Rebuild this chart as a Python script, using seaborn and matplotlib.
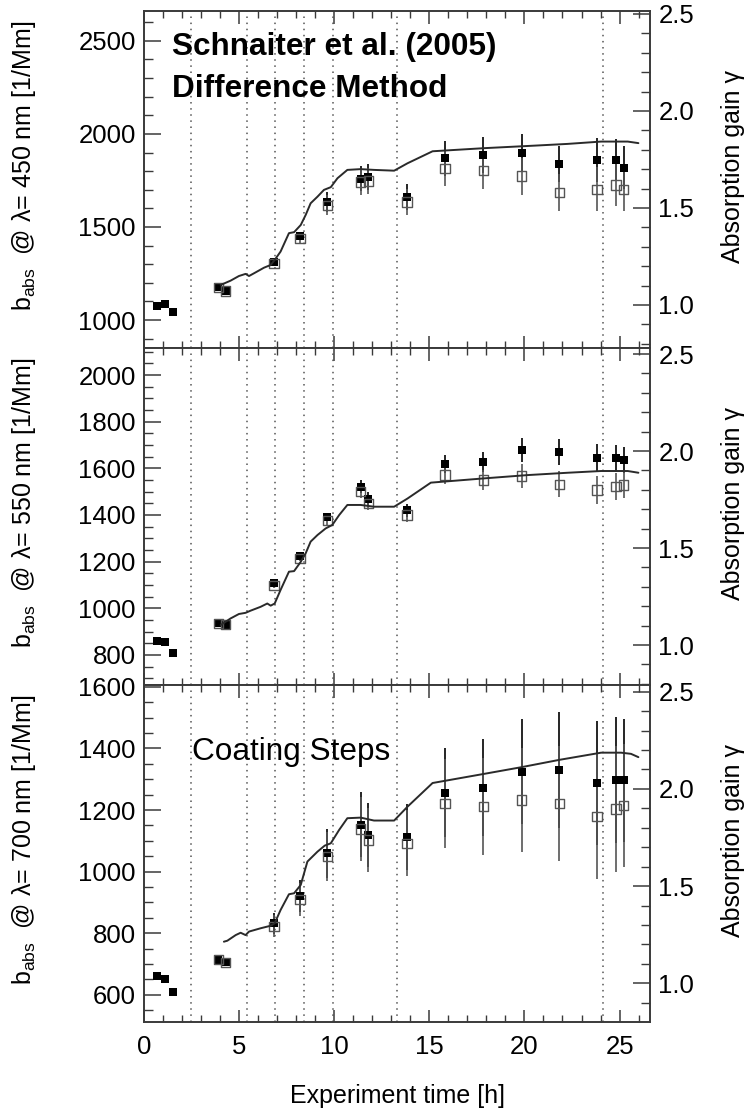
import numpy as np
import pandas as pd
import matplotlib
matplotlib.use("Agg")
import matplotlib.pyplot as plt
import seaborn as sns
from matplotlib.ticker import MultipleLocator, FormatStrFormatter

# ---------------- data ----------------
coating_steps = [2.45, 5.43, 6.87, 8.41, 9.94, 13.29, 24.13]

t_points = [0.66, 1.08, 1.52, 3.9, 4.3, 6.83, 8.2, 9.64, 11.39, 11.8, 13.82,
            15.82, 17.83, 19.85, 21.83, 23.82, 24.82, 25.22]
t_open = t_points[3:]

# 450 nm
filled_450 = [1075, 1084, 1041, 1175, 1156, 1313, 1451, 1635, 1760, 1769, 1662,
              1868, 1886, 1898, 1837, 1859, 1859, 1818]
open_450 = [1175, 1156, 1304, 1438, 1617, 1742, 1747, 1635,
            1814, 1802, 1773, 1685, 1702, 1725, 1702]
err_450 = [0, 0, 15, 22, 55, 68, 70, 70, 95, 97, 100, 98, 118, 113, 116]
t_gain_450 = [4.03, 4.55, 4.99, 5.34, 5.52, 5.78, 6.31, 6.66, 6.87, 7.18, 7.62,
              7.89, 8.24, 8.50, 8.76, 9.12, 9.46, 9.82, 10.17, 10.69, 11.39,
              12.09, 13.15, 13.85, 15.17, 17.88, 20.52, 22.27, 24.03, 25.43, 25.99]
gain_450 = [1.103, 1.125, 1.149, 1.160, 1.149, 1.163, 1.192, 1.206, 1.232, 1.275,
            1.370, 1.375, 1.412, 1.464, 1.524, 1.558, 1.593, 1.607, 1.653, 1.696,
            1.700, 1.696, 1.692, 1.730, 1.792, 1.808, 1.821, 1.830, 1.842, 1.842, 1.834]

# 550 nm
filled_550 = [861, 857, 807, 936, 929, 1107, 1224, 1393, 1521, 1469, 1421,
              1617, 1629, 1679, 1671, 1646, 1643, 1636]
open_550 = [936, 929, 1097, 1214, 1376, 1500, 1450, 1400,
            1571, 1550, 1567, 1532, 1507, 1521, 1529]
err_550 = [0, 0, 10, 12, 17, 28, 28, 28, 39, 43, 53, 55, 60, 57, 57]
t_gain_550 = [4.03, 4.55, 4.99, 5.34, 5.60, 6.13, 6.48, 6.66, 6.87, 7.18, 7.62,
              7.89, 8.24, 8.50, 8.76, 9.12, 9.55, 9.90, 10.26, 10.69, 11.39,
              12.09, 13.15, 13.85, 15.08, 17.88, 20.17, 22.27, 24.03, 25.43, 25.99]
gain_550 = [1.103, 1.137, 1.160, 1.166, 1.177, 1.197, 1.214, 1.203, 1.214, 1.284,
            1.378, 1.381, 1.429, 1.473, 1.533, 1.567, 1.601, 1.619, 1.670, 1.722,
            1.722, 1.713, 1.713, 1.755, 1.837, 1.859, 1.876, 1.888, 1.897, 1.897, 1.888]

# 700 nm
filled_700 = [662, 652, 611, 714, 706, 832, 921, 1060, 1153, 1119, 1112,
              1257, 1273, 1325, 1330, 1287, 1297, 1297]
open_700 = [714, 706, 823, 909, 1049, 1139, 1103, 1092,
            1221, 1212, 1233, 1221, 1179, 1203, 1214]
err_700 = [0, 0, 35, 53, 80, 105, 105, 107, 144, 157, 170, 187, 202, 204, 200]
t_gain_700 = [4.2, 4.38, 4.82, 5.08, 5.34, 5.52, 6.13, 6.66, 6.87, 7.18, 7.62,
              7.89, 8.24, 8.59, 9.12, 9.5, 9.82, 10.26, 10.69, 11.39, 12.09,
              13.15, 13.85, 15.17, 17.88, 19.82, 21.83, 24.03, 25.08, 25.6, 25.99]
gain_700 = [1.214, 1.219, 1.248, 1.260, 1.248, 1.266, 1.283, 1.296, 1.309, 1.377,
            1.458, 1.463, 1.506, 1.626, 1.677, 1.708, 1.720, 1.789, 1.849, 1.852,
            1.837, 1.837, 1.908, 2.030, 2.077, 2.111, 2.149, 2.186, 2.186, 2.180, 2.163]

wavelengths = ["450", "550", "700"]

# ---------------- style ----------------
sns.set_theme(style="ticks")
plt.rcParams['font.family'] = ['Liberation Sans', 'DejaVu Sans']
plt.rcParams['mathtext.fontset'] = 'custom'
plt.rcParams['mathtext.rm'] = 'Liberation Sans'
plt.rcParams['axes.edgecolor'] = '#3a3a3a'
plt.rcParams['axes.linewidth'] = 1.2
plt.rcParams['text.color'] = 'black'
plt.rcParams['axes.labelcolor'] = 'black'
plt.rcParams['xtick.labelcolor'] = 'black'
plt.rcParams['ytick.labelcolor'] = 'black'

AX_COL = '#3a3a3a'
TICK_FS = 18.5
LAB_FS = 18

fig = plt.figure(figsize=(7.5, 11.14), dpi=100)
W, H = 750.0, 1114.0
x0, x1 = 144, 650
panel_px = [(11, 348), (348, 685), (685, 1022)]

left_lims = [(850, 2660), (671, 2116), (512, 1606)]
right_lims = [(0.778, 2.515), (0.794, 2.531), (0.801, 2.534)]
left_major = [500, 200, 200]
left_minor = [100, 50, 50]

panels = [
    (filled_450, open_450, err_450, t_gain_450, gain_450),
    (filled_550, open_550, err_550, t_gain_550, gain_550),
    (filled_700, open_700, err_700, t_gain_700, gain_700),
]

for i, (filled, opn, err, tg, g) in enumerate(panels):
    top, bot = panel_px[i]
    ax = fig.add_axes([x0 / W, 1 - bot / H, (x1 - x0) / W, (bot - top) / H])
    ax2 = ax.twinx()

    for xs in coating_steps:
        ax.axvline(xs, color='#555555', lw=1.1, ls=(0, (1, 3)), zorder=1)

    # error bars
    ax.errorbar(t_open, filled[3:], yerr=err, fmt='none', ecolor='black',
                elinewidth=1.2, capsize=0, zorder=3)
    ax.errorbar(t_open, opn, yerr=err, fmt='none', ecolor='#555555',
                elinewidth=1.2, capsize=0, zorder=3)

    sns.scatterplot(x=t_points, y=filled, marker='s', s=30, color='black',
                    edgecolor='black', linewidth=0, ax=ax, zorder=4)
    ax.scatter(t_open, opn, marker='s', s=45, facecolors='none',
               edgecolors='#555555', linewidths=1.0, zorder=5)

    sns.lineplot(x=tg, y=g, ax=ax2, color='#2a2a2a', lw=1.4,
                 estimator=None, sort=False)

    ax.set_xlim(0, 26.6)
    ax.set_ylim(*left_lims[i])
    ax2.set_ylim(*right_lims[i])

    ax.xaxis.set_major_locator(MultipleLocator(5))
    ax.xaxis.set_minor_locator(MultipleLocator(1))
    ax.yaxis.set_major_locator(MultipleLocator(left_major[i]))
    ax.yaxis.set_minor_locator(MultipleLocator(left_minor[i]))
    ax2.yaxis.set_major_locator(MultipleLocator(0.5))
    ax2.yaxis.set_minor_locator(MultipleLocator(0.1))
    ax2.yaxis.set_major_formatter(FormatStrFormatter('%.1f'))

    ax.tick_params(axis='y', which='major', direction='in', length=12.5,
                   width=1.1, color=AX_COL, labelsize=TICK_FS, pad=6,
                   left=True, right=False, labelcolor='black')
    ax.tick_params(axis='y', which='minor', direction='in', length=6.5,
                   width=1.0, color=AX_COL, left=True, right=False)
    ax.tick_params(axis='x', which='major', direction='in', length=9,
                   width=1.1, color=AX_COL, top=True, bottom=True,
                   labelsize=TICK_FS, pad=9, labelbottom=(i == 2),
                   labelcolor='black')
    ax.tick_params(axis='x', which='minor', direction='in', length=5,
                   width=1.0, color=AX_COL, top=True, bottom=True)
    ax2.tick_params(axis='y', which='major', direction='in', length=12.5,
                    width=1.1, color=AX_COL, labelsize=TICK_FS, pad=6,
                    labelcolor='black')
    ax2.tick_params(axis='y', which='minor', direction='in', length=6.5,
                    width=1.0, color=AX_COL)

    ax.set_ylabel(r"b$_{\mathregular{abs}}$  @ λ= " + wavelengths[i] + " nm [1/Mm]",
                  fontsize=LAB_FS, color='black')
    ax.yaxis.set_label_coords(-0.21, 0.54)
    ax2.set_ylabel("Absorption gain γ", fontsize=LAB_FS, rotation=90,
                   color='black')
    ax2.yaxis.set_label_coords(1.14, 0.54)
    ax.set_xlabel("")

    if i == 0:
        ax.text(0.055, 0.869, "Schnaiter et al. (2005)", transform=ax.transAxes,
                fontsize=22.7, fontweight='bold', va='baseline', ha='left',
                color='black')
        ax.text(0.055, 0.745, "Difference Method", transform=ax.transAxes,
                fontsize=22.7, fontweight='bold', va='baseline', ha='left',
                color='black')
    if i == 2:
        ax.text(0.094, 0.777, "Coating Steps", transform=ax.transAxes,
                fontsize=22.7, va='baseline', ha='left', color='black')
        ax.set_xlabel("Experiment time [h]", fontsize=LAB_FS, color='black')
        ax.xaxis.set_label_coords(0.5, -0.185)

fig.savefig("out.png", dpi=100)
